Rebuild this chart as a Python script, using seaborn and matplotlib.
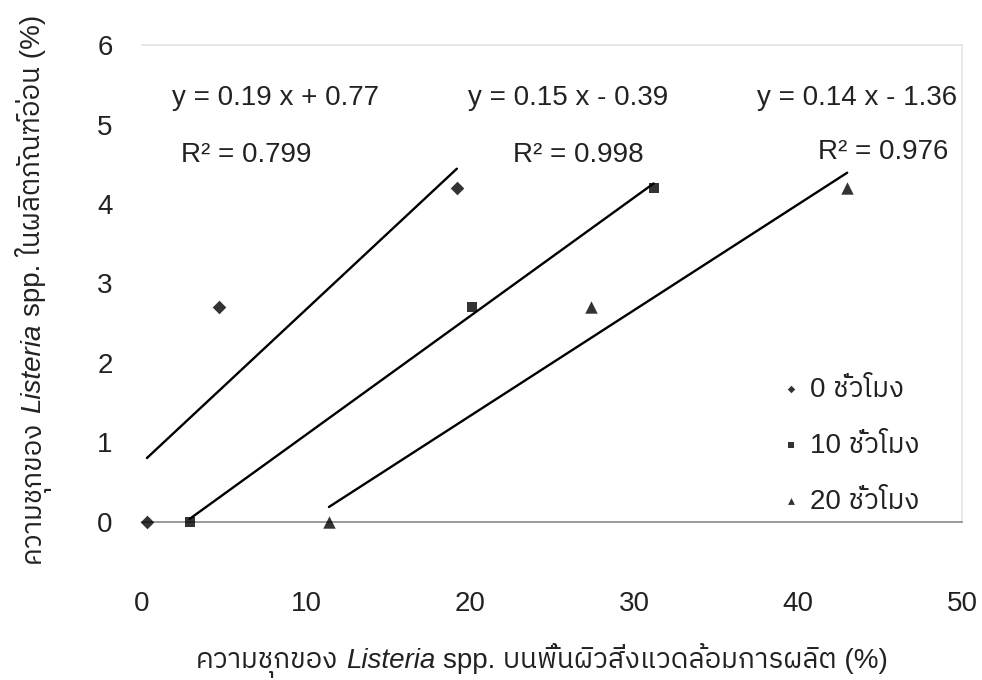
import numpy as np
import pandas as pd
import seaborn as sns
import matplotlib.pyplot as plt
from matplotlib import font_manager
from matplotlib.transforms import offset_copy

# prevalence on production surfaces (x) and in product (y)
surface_0h = [0.3, 4.7, 19.2]
product_0h = [0.0, 2.7, 4.2]
surface_10h = [2.9, 20.1, 31.2]
product_10h = [0.0, 2.7, 4.2]
surface_20h = [11.4, 27.4, 43.0]
product_20h = [0.0, 2.7, 4.2]

series_labels = ['0 ชั่วโมง', '10 ชั่วโมง', '20 ชั่วโมง']
equations = ['y = 0.19 x + 0.77', 'y = 0.15 x - 0.39', 'y = 0.14 x - 1.36']
r_squared = ['R² = 0.799', 'R² = 0.998', 'R² = 0.976']
xticks = [0, 10, 20, 30, 40, 50]
yticks = [0, 1, 2, 3, 4, 5, 6]

sns.set_theme(style='white')
thai = sorted({f.name for f in font_manager.fontManager.ttflist
               if any(k in f.name for k in ('Thai', 'Tlwg', 'Garuda', 'Loma', 'Kinnari',
                                             'Norasi', 'Sarabun', 'Waree', 'Umpush',
                                             'Sawasdee', 'Purisa', 'Laksaman'))})
plt.rcParams['font.family'] = ['Liberation Sans'] + thai + ['DejaVu Sans']
ink = '#222222'

fig, ax = plt.subplots(figsize=(9.82, 6.8), dpi=100)
fig.subplots_adjust(left=0.1446, right=0.9796, bottom=0.2324, top=0.9338)

groups = [(surface_0h, product_0h, 'D', 48),
          (surface_10h, product_10h, 's', 60),
          (surface_20h, product_20h, '^', 80)]
for (xs, ys, m, s), lab in zip(groups, series_labels):
    sns.regplot(x=np.array(xs), y=np.array(ys), ax=ax, ci=None, truncate=True,
                marker=m, color='black', label=lab,
                scatter_kws={'s': s, 'linewidths': 0, 'zorder': 3, 'clip_on': False},
                line_kws={'lw': 1.7, 'zorder': 2})

ax.set_xlim(0, 50)
ax.set_ylim(0, 6)
ax.set_xticks(xticks)
ax.set_yticks(yticks)
ax.tick_params(axis='both', length=0, labelsize=20, labelcolor=ink)
ax.tick_params(axis='x', pad=50)
ax.tick_params(axis='y', pad=21)
ax.set_xlabel('')
ax.set_ylabel('')

ax.spines['left'].set_visible(False)
ax.spines['bottom'].set_color('#8a8a8a')
ax.spines['bottom'].set_linewidth(1.2)
for side in ['top', 'right']:
    ax.spines[side].set_color('#e4e4e4')
    ax.spines[side].set_linewidth(1.2)

# regression equations
eq_pos = [(1.8, 5.33), (19.9, 5.33), (37.5, 5.33)]
r2_pos = [(2.4, 4.62), (22.6, 4.62), (41.2, 4.65)]
for (x, y), t in zip(eq_pos, equations):
    ax.text(x, y, t, fontsize=20, color=ink, va='center', ha='left')
for (x, y), t in zip(r2_pos, r_squared):
    ax.text(x, y, t, fontsize=20, color=ink, va='center', ha='left')

leg = ax.legend(loc='center left', bbox_to_anchor=(0.742, 0.16), frameon=False,
                fontsize=20, labelspacing=1.08, handletextpad=0.15, markerscale=0.55,
                handlelength=1.1, labelcolor=ink)


def mixed_label(parts, cx, cy, vertical=False, size=16):
    # draw a label from pieces of different style, centred at (cx, cy) in figure coords
    r = fig.canvas.get_renderer()
    gap = size * fig.dpi / 72 * 0.28
    items = []
    for s, style in parts:
        t = fig.text(cx, cy, s, fontsize=size, fontstyle=style, color=ink,
                     rotation=90 if vertical else 0, rotation_mode='anchor',
                     ha='left', va='baseline')
        bb = t.get_window_extent(r)
        items.append((t, bb.height if vertical else bb.width))
    total = sum(w for _, w in items) + gap * (len(items) - 1)
    pos = -total / 2
    for t, w in items:
        dx, dy = (0, pos) if vertical else (pos, 0)
        t.set_transform(offset_copy(fig.transFigure, fig=fig, x=dx, y=dy, units='dots'))
        pos += w + gap


mixed_label([('ความชุกของ', 'normal'), ('Listeria', 'italic'),
             ('spp. บนพื้นผิวสิ่งแวดล้อมการผลิต (%)', 'normal')],
            0.552, 1 - 668 / 680, size=20)
mixed_label([('ความชุกของ', 'normal'), ('Listeria', 'italic'),
             ('spp. ในผลิตภัณฑ์อ่อน (%)', 'normal')],
            40 / 982, 1 - 289 / 680, vertical=True, size=20)

fig.savefig('out.png', dpi=100)
